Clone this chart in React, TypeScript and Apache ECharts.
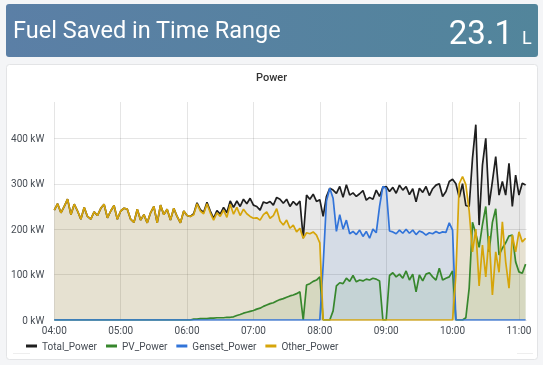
import React, { useEffect, useRef } from "react";
import * as echarts from "echarts";

// ---- data ----
const STEP_MIN = 3; // sample spacing (minutes since 04:00)
const xTickLabels = ["04:00", "05:00", "06:00", "07:00", "08:00", "09:00", "10:00", "11:00"];
const yTickValues = [0, 100, 200, 300, 400];
const seriesNames = ["Total_Power", "PV_Power", "Genset_Power", "Other_Power"];
const seriesColors = ["#1f1f1f", "#37872d", "#3274d9", "#d6a50a"];

const totalPower = [
  242, 256, 236, 250, 266, 232, 255, 240, 222, 248, 228, 222, 238, 230, 246, 255, 225, 240, 252, 222,
  240, 246, 244, 222, 215, 244, 220, 232, 214, 236, 250, 214, 253, 232, 244, 220, 246, 228, 214, 240,
  230, 228, 234, 258, 243, 237, 259, 240, 224, 241, 233, 248, 236, 262, 248, 262, 250, 266, 256, 268,
  253, 250, 242, 260, 257, 261, 253, 270, 266, 257, 266, 250, 261, 253, 262, 180, 275, 266, 277, 261,
  265, 228, 272, 290, 286, 279, 294, 270, 298, 275, 280, 272, 278, 285, 264, 270, 266, 286, 272, 292,
  294, 283, 292, 279, 297, 286, 294, 276, 289, 260, 290, 281, 294, 274, 289, 297, 300, 272, 283, 305,
  310, 300, 270, 300, 252, 250, 356, 430, 209, 341, 400, 253, 305, 360, 275, 305, 275, 345, 250, 319,
  275, 301, 297,
];

const pvPower = [
  0, 0, 0, 0, 0, 0, 0, 0, 0, 0, 0, 0, 0, 0, 0, 0, 0, 0, 0, 0,
  0, 0, 0, 0, 0, 0, 0, 0, 0, 0, 0, 0, 0, 0, 0, 0, 0, 0, 0, 0,
  0, 0, 2, 2, 3, 3, 3, 4, 4, 5, 5, 5, 6, 6, 7, 10, 12, 15, 17, 19,
  21, 24, 26, 30, 33, 36, 38, 42, 45, 47, 50, 53, 55, 58, 62, 0, 77, 80, 85, 88,
  95, 0, 0, 0, 20, 75, 82, 80, 92, 85, 98, 84, 88, 86, 90, 88, 92, 90, 86, 0,
  0, 98, 104, 95, 101, 92, 108, 88, 101, 62, 99, 86, 101, 104, 95, 88, 114, 88, 92, 95,
  108, 0, 0, 0, 5, 70, 215, 190, 160, 210, 250, 150, 215, 245, 143, 158, 170, 185, 187, 128,
  106, 103, 123,
];

const gensetPower = [
  0, 0, 0, 0, 0, 0, 0, 0, 0, 0, 0, 0, 0, 0, 0, 0, 0, 0, 0, 0,
  0, 0, 0, 0, 0, 0, 0, 0, 0, 0, 0, 0, 0, 0, 0, 0, 0, 0, 0, 0,
  0, 0, 0, 0, 0, 0, 0, 0, 0, 0, 0, 0, 0, 0, 0, 0, 0, 0, 0, 0,
  0, 0, 0, 0, 0, 0, 0, 0, 0, 0, 0, 0, 0, 0, 0, 0, 0, 0, 0, 0,
  0, 120, 262, 290, 268, 195, 232, 200, 220, 190, 195, 188, 198, 184, 195, 180, 200, 192, 250, 294,
  290, 196, 194, 190, 198, 191, 200, 191, 198, 188, 196, 193, 187, 192, 190, 195, 191, 194, 193, 214,
  198, 0, 0, 0, 0, 0, 0, 0, 0, 0, 0, 0, 0, 0, 0, 0, 0, 0, 0, 0,
  0, 0, 0,
];

const otherPower = [
  242, 256, 236, 250, 266, 232, 255, 240, 222, 248, 228, 222, 238, 230, 246, 255, 225, 240, 252, 222,
  240, 246, 244, 222, 215, 244, 220, 232, 214, 236, 250, 214, 253, 232, 244, 220, 246, 228, 214, 240,
  230, 228, 232, 256, 240, 234, 256, 236, 220, 236, 228, 242, 226, 255, 233, 248, 230, 244, 234, 228,
  224, 225, 220, 232, 238, 224, 230, 245, 218, 209, 220, 202, 209, 194, 202, 180, 192, 190, 194, 187,
  170, 0, 0, 0, 0, 0, 0, 0, 0, 0, 0, 0, 0, 0, 0, 0, 0, 0, 0, 0,
  0, 0, 0, 0, 0, 0, 0, 0, 0, 0, 0, 0, 0, 0, 0, 0, 0, 0, 0, 0,
  0, 100, 300, 316, 298, 240, 150, 200, 75, 165, 95, 185, 55, 150, 105, 216, 128, 70, 187, 150,
  194, 172, 180,
];

const seriesValues = [totalPower, pvPower, gensetPower, otherPower];

const FONT = "Roboto, 'Noto Sans', sans-serif";

function buildOption(): echarts.EChartsCoreOption {
  const series = seriesNames.map((name, k) => ({
    name,
    type: "line",
    data: seriesValues[k].map((v, i) => [i * STEP_MIN, v]),
    showSymbol: false,
    symbol: "none",
    lineStyle: { width: 1.7, color: seriesColors[k] },
    itemStyle: { color: seriesColors[k] },
    areaStyle: { color: seriesColors[k], opacity: 0.1 },
    emphasis: { disabled: true },
  }));

  return {
    animation: false,
    backgroundColor: "transparent",
    graphic: [
      { type: "rect", z: -10, silent: true, shape: { x: 0, y: 0, width: 543, height: 365 }, style: { fill: "#f4f5f7" } },
      {
        type: "rect", z: -9, silent: true,
        shape: { x: 6, y: 4, width: 532, height: 53, r: 3 },
        style: {
          fill: new echarts.graphic.LinearGradient(0, 0, 1, 0, [
            { offset: 0, color: "#5b7fa6" },
            { offset: 1, color: "#52859b" },
          ]),
        },
      },
      {
        type: "rect", z: -9, silent: true,
        shape: { x: 6.5, y: 64.5, width: 531, height: 295, r: 3 },
        style: { fill: "#ffffff", stroke: "#e3e4e6", lineWidth: 1 },
      },
      { type: "line", z: -8, silent: true, shape: { x1: 13, y1: 353.5, x2: 30, y2: 353.5 }, style: { stroke: "#eeeeee", lineWidth: 1 } },
      { type: "line", z: -8, silent: true, shape: { x1: 517, y1: 353.5, x2: 533, y2: 353.5 }, style: { stroke: "#eeeeee", lineWidth: 1 } },
      {
        type: "text", z: 5, silent: true, x: 13, y: 30,
        style: { text: "Fuel Saved in Time Range", fill: "#ffffff", fontSize: 23.5, fontFamily: FONT, align: "left", verticalAlign: "middle", textAlign: "left", textVerticalAlign: "middle" },
      },
      {
        type: "text", z: 5, silent: true, x: 513, y: 32.5,
        style: { text: "23.1", fill: "#ffffff", fontSize: 33, fontFamily: FONT, align: "right", verticalAlign: "middle", textAlign: "right", textVerticalAlign: "middle" },
      },
      {
        type: "text", z: 5, silent: true, x: 522, y: 37.7,
        style: { text: "L", fill: "#ffffff", fontSize: 18, fontFamily: FONT, align: "left", verticalAlign: "middle", textAlign: "left", textVerticalAlign: "middle" },
      },
    ],
    title: {
      text: "Power",
      left: "center",
      top: 67,
      textStyle: { fontSize: 11, fontWeight: 500, color: "#333333", fontFamily: FONT },
    },
    legend: {
      data: seriesNames,
      left: 21,
      top: 336,
      icon: "rect",
      itemWidth: 11,
      itemHeight: 3,
      itemGap: 9,
      textStyle: { fontSize: 10, color: "#464c54", fontFamily: FONT },
      selectedMode: false,
    },
    grid: { left: 54.3, right: 16.3, top: 102, bottom: 45, containLabel: false },
    xAxis: {
      type: "value",
      min: 0,
      max: 427,
      interval: 60,
      axisLine: { show: false },
      axisTick: { show: false },
      axisLabel: {
        margin: 5,
        fontSize: 10,
        color: "#464c54",
        fontFamily: FONT,
        showMaxLabel: false,
        formatter: (v: number) => (v % 60 === 0 ? xTickLabels[v / 60] ?? "" : ""),
      },
      splitLine: { show: true, showMaxLine: false, lineStyle: { color: "rgba(0,0,0,0.1)", width: 1 } },
    },
    yAxis: {
      type: "value",
      min: 0,
      max: 480,
      interval: 100,
      axisLine: { show: false },
      axisTick: { show: false },
      axisLabel: {
        margin: 10,
        fontSize: 10,
        color: "#464c54",
        fontFamily: FONT,
        showMaxLabel: false,
        formatter: (v: number) => (yTickValues.includes(v) ? `${v} kW` : ""),
      },
      splitLine: { show: true, showMaxLine: false, lineStyle: { color: "rgba(0,0,0,0.1)", width: 1 } },
    },
    series,
  };
}

export default function App() {
  const ref = useRef<HTMLDivElement>(null);
  useEffect(() => {
    if (!ref.current) return;
    const chart = echarts.init(ref.current, null, { renderer: "svg" });
    chart.setOption(buildOption());
    return () => chart.dispose();
  }, []);
  return (
    <div
      ref={ref}
      style={{ position: "fixed", left: 0, top: 0, width: 543, height: 365 }}
    />
  );
}
